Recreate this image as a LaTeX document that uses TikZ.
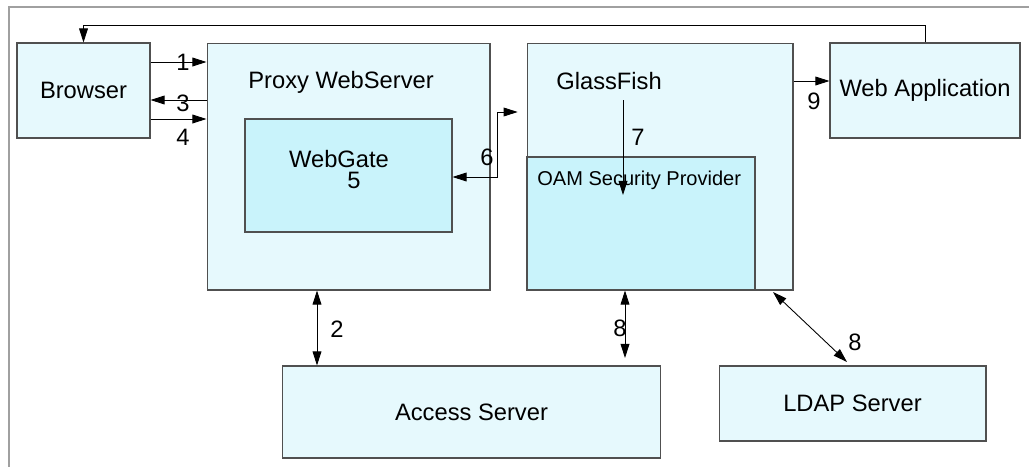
\documentclass[tikz,border=0pt]{standalone}
\usepackage{fontspec}
\setmainfont{Liberation Sans}
\usetikzlibrary{arrows.meta}
\definecolor{boxfill}{HTML}{E6F9FD}
\definecolor{innerfill}{HTML}{C9F3FB}
\definecolor{boxline}{HTML}{505050}
\definecolor{frameline}{HTML}{A0A0A0}

\begin{document}
\begin{tikzpicture}[x=0.02cm, y=-0.02cm,
	box/.style={draw=boxline, fill=boxfill, line width=0.6pt, inner sep=0pt, font=\fontsize{13.5}{16}\selectfont},
	inbox/.style={box, fill=innerfill},
	arr/.style={-{Triangle[length=8pt,width=5pt]}, line width=0.5pt},
	darr/.style={{Triangle[length=8pt,width=5pt]}-{Triangle[length=8pt,width=5pt]}, line width=0.5pt},
	lbl/.style={font=\fontsize{13.5}{16}\selectfont, inner sep=0pt}]
\useasboundingbox (0,0) rectangle (1029,467);
\draw[frameline, line width=0.6pt] (9,467) -- (9,7) -- (1029,7);

% boxes
\node[box, minimum width=2.66cm, minimum height=1.9cm] (browser) at (83.5,90.5) {Browser};
\node[box, minimum width=5.66cm, minimum height=4.94cm] (proxy) at (348.5,166.5) {};
\node[inbox, minimum width=4.14cm, minimum height=2.26cm] (webgate) at (348.5,175.5) {};
\node[box, minimum width=5.32cm, minimum height=4.94cm] (glassfish) at (660,166.5) {};
\node[inbox, minimum width=4.56cm, minimum height=2.66cm] (oam) at (641,223.5) {};
\node[box, minimum width=3.8cm, minimum height=1.9cm] (webapp) at (925,90.5) {Web Application};
\node[box, minimum width=7.58cm, minimum height=1.84cm] (access) at (471.5,412) {Access Server};
\node[box, minimum width=5.34cm, minimum height=1.5cm] (ldap) at (852.5,403.5) {LDAP Server};

% texts inside the big boxes
\node[lbl, anchor=west] (proxytxt) at (248,82) {Proxy WebServer};
\node[lbl] (webgatetxt) at (339,159) {WebGate};
\node[lbl, anchor=west] (glassfishtxt) at (556,81) {GlassFish};
\node[lbl, anchor=west, font=\fontsize{11.4}{14}\selectfont] (oamtxt) at (537,180) {OAM Security Provider};

% helper coordinates
\coordinate (y1) at (0,62);
\coordinate (y3) at (0,100);
\coordinate (y4) at (0,119);
\coordinate (y9) at (0,81);
\coordinate (top) at (0,25);
\coordinate (c6a) at (497,177);
\coordinate (c6b) at (497,112);
\coordinate (g7a) at (623,100);
\coordinate (g7b) at (623,195);
\coordinate (x2) at (317,0);
\coordinate (x8) at (625,0);
\coordinate (e8) at (625,358);
\coordinate (s8) at (773,292);
\coordinate (t8) at (847,362);

% connectors
\draw[arr] (browser.east |- y1) -- (proxy.west |- y1);
\draw[arr] (proxy.west |- y3) -- (browser.east |- y3);
\draw[arr] (browser.east |- y4) -- (proxy.west |- y4);
\draw[darr, shorten >=5pt] (webgate.east |- c6a) -- (c6a) -- (c6b) -- (glassfish.west |- c6b);
\draw[arr] (g7a) -- (g7b);
\draw[arr] (glassfish.east |- y9) -- (webapp.west |- y9);
\draw[arr] (webapp.north) -- (webapp.north |- top) -| (browser.north);
\draw[darr] (proxy.south -| x2) -- (access.north -| x2);
\draw[darr] (glassfish.south -| x8) -- (e8);
\draw[darr] (s8) -- (t8);

% numbers
\node[lbl] (n1) at (183,62) {1};
\node[lbl] (n3) at (183,103) {3};
\node[lbl] (n4) at (183,137) {4};
\node[lbl] (n5) at (354,180) {5};
\node[lbl] (n6) at (487,157) {6};
\node[lbl] (n7) at (638,137) {7};
\node[lbl] (n9) at (814,101) {9};
\node[lbl] (n2) at (337,329) {2};
\node[lbl] (n8a) at (620,328) {8};
\node[lbl] (n8b) at (855,342) {8};
\end{tikzpicture}
\end{document}
